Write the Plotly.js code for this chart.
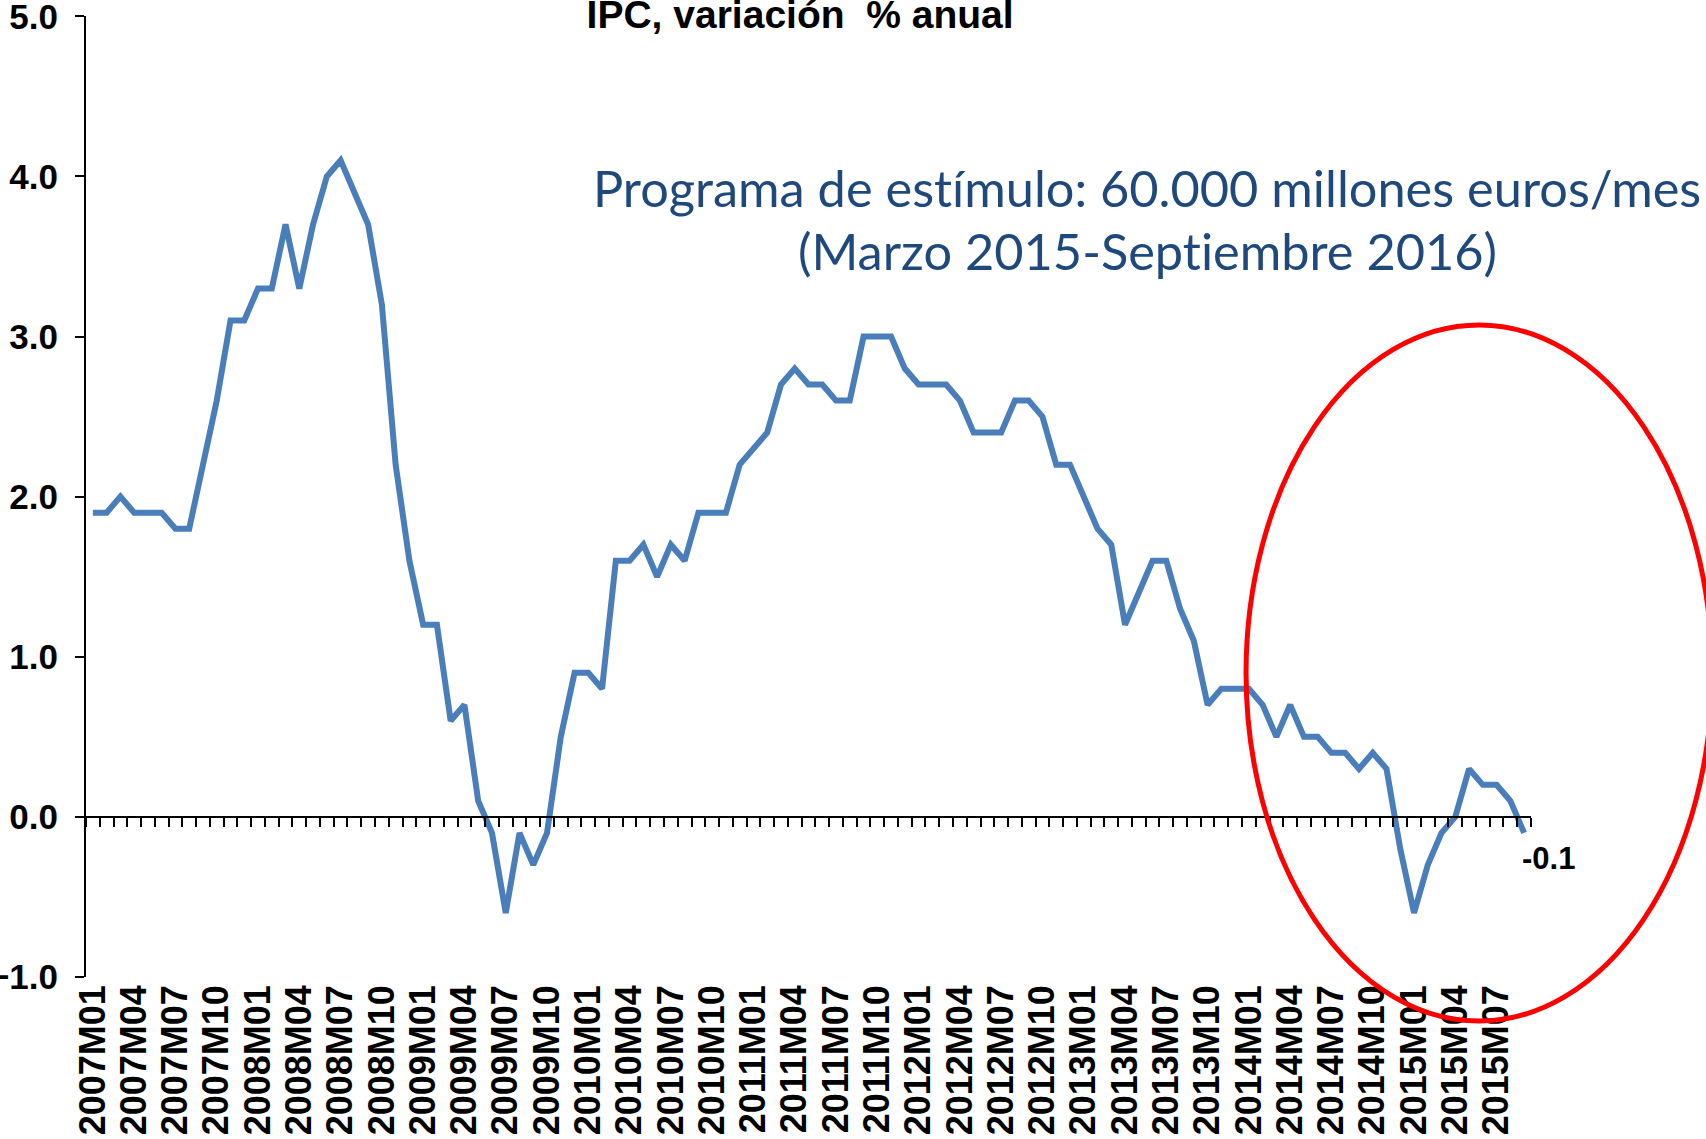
<!DOCTYPE html>
<html>
<head>
<meta charset="utf-8">
<script src="https://cdn.plot.ly/plotly-3.0.1.min.js"></script>
<style>
html, body { margin: 0; padding: 0; background: #fff; }
#chart { width: 1706px; height: 1139px; }
svg text { font-variant-ligatures: none; font-feature-settings: "liga" 0, "clig" 0; }
</style>
</head>
<body>
<div id="chart"></div>
<script>
// ---- Data (IPC, variación % anual, 2007M01 - 2015M09) ----
const startYear = 2007;
const ipc2007 = [1.9, 1.9, 2.0, 1.9, 1.9, 1.9, 1.8, 1.8, 2.2, 2.6, 3.1, 3.1];
const ipc2008 = [3.3, 3.3, 3.7, 3.3, 3.7, 4.0, 4.1, 3.9, 3.7, 3.2, 2.2, 1.6];
const ipc2009 = [1.2, 1.2, 0.6, 0.7, 0.1, -0.1, -0.6, -0.1, -0.3, -0.1, 0.5, 0.9];
const ipc2010 = [0.9, 0.8, 1.6, 1.6, 1.7, 1.5, 1.7, 1.6, 1.9, 1.9, 1.9, 2.2];
const ipc2011 = [2.3, 2.4, 2.7, 2.8, 2.7, 2.7, 2.6, 2.6, 3.0, 3.0, 3.0, 2.8];
const ipc2012 = [2.7, 2.7, 2.7, 2.6, 2.4, 2.4, 2.4, 2.6, 2.6, 2.5, 2.2, 2.2];
const ipc2013 = [2.0, 1.8, 1.7, 1.2, 1.4, 1.6, 1.6, 1.3, 1.1, 0.7, 0.8, 0.8];
const ipc2014 = [0.8, 0.7, 0.5, 0.7, 0.5, 0.5, 0.4, 0.4, 0.3, 0.4, 0.3, -0.2];
const ipc2015 = [-0.6, -0.3, -0.1, 0.0, 0.3, 0.2, 0.2, 0.1, -0.1];
const yearlySeries = [ipc2007, ipc2008, ipc2009, ipc2010, ipc2011, ipc2012, ipc2013, ipc2014, ipc2015];

const yMin = -1, yMax = 5, yStep = 1;
const chartTitle = 'IPC, variación &nbsp;% anual';
const noteLine1 = 'Programa de estímulo: 60.000 millones euros/mes';
const noteLine2 = '(Marzo 2015-Septiembre 2016)';

// Build categories and values
const periods = [];
const values = [];
yearlySeries.forEach((arr, yi) => {
  arr.forEach((v, mi) => {
    periods.push((startYear + yi) + 'M' + String(mi + 1).padStart(2, '0'));
    values.push(v);
  });
});
const labelPeriods = periods.filter((p, i) => i % 3 === 0);
const n = periods.length;
const lastPeriod = periods[n - 1];
const lastValue = values[n - 1];

const boldFont = { family: 'Arial, "Liberation Sans", sans-serif', color: '#000', weight: 'bold' };
const noteFont = { family: 'Lato, "Open Sans", sans-serif', size: 50.5, color: '#1F497D' };

const traces = [
  {
    type: 'scatter', mode: 'lines',
    x: periods, y: values,
    line: { color: '#4A7EBB', width: 6 },
    hoverinfo: 'x+y', showlegend: false
  },
  {
    type: 'scatter', mode: 'lines', x: [], y: [],
    xaxis: 'x2', showlegend: false, hoverinfo: 'skip'
  }
];

const layout = {
  width: 1706, height: 1139,
  margin: { l: 86, r: 175, t: 16, b: 162, pad: 0 },
  paper_bgcolor: '#fff', plot_bgcolor: '#fff',
  showlegend: false,
  title: {
    text: chartTitle,
    font: Object.assign({}, boldFont, { size: 39 }),
    xref: 'container', x: 0.469, xanchor: 'center',
    yref: 'container', y: 0.987, yanchor: 'middle'
  },
  xaxis: {
    type: 'category',
    categoryorder: 'array', categoryarray: periods,
    range: [-0.5, n - 0.5],
    tickmode: 'array', tickvals: labelPeriods, ticktext: labelPeriods,
    tickangle: -90,
    tickfont: Object.assign({}, boldFont, { size: 36 }),
    ticklabeloverflow: 'allow',
    ticks: '', showline: false, showgrid: false, zeroline: false,
    automargin: false, fixedrange: true
  },
  xaxis2: {
    type: 'linear', overlaying: 'x', anchor: 'free', position: 1 / 6,
    side: 'bottom',
    range: [-0.5, n - 0.5],
    tickmode: 'linear', tick0: -0.5, dtick: 1,
    ticks: 'outside', ticklen: 9, tickwidth: 2, tickcolor: '#000',
    showticklabels: false,
    showline: true, linecolor: '#000', linewidth: 2,
    showgrid: false, zeroline: false, fixedrange: true
  },
  yaxis: {
    range: [yMin, yMax + 0.002],
    tickmode: 'linear', tick0: yMin, dtick: yStep,
    tickformat: '.1f',
    ticks: 'outside', ticklen: 9, tickwidth: 2, tickcolor: '#000',
    ticklabelstandoff: 10,
    ticklabeloverflow: 'allow',
    tickfont: Object.assign({}, boldFont, { size: 35 }),
    showline: true, linecolor: '#000', linewidth: 2,
    showgrid: false, zeroline: false,
    automargin: false, fixedrange: true
  },
  annotations: [
    {
      xref: 'paper', yref: 'paper', x: 0.7343, y: 0.822,
      xanchor: 'center', yanchor: 'middle',
      text: noteLine1, showarrow: false, font: noteFont
    },
    {
      xref: 'paper', yref: 'paper', x: 0.7343, y: 0.7565,
      xanchor: 'center', yanchor: 'middle',
      text: noteLine2, showarrow: false, font: noteFont
    },
    {
      xref: 'x', yref: 'y', x: lastPeriod, y: lastValue,
      xanchor: 'left', yanchor: 'middle', xshift: -4, yshift: -26,
      text: lastValue.toFixed(1), showarrow: false,
      font: Object.assign({}, boldFont, { size: 31 })
    }
  ],
  shapes: [
    {
      type: 'circle', xref: 'paper', yref: 'paper',
      x0: 0.8028, x1: 1.1253, y0: -0.0458, y1: 0.6785,
      line: { color: '#FF0000', width: 5 },
      fillcolor: 'rgba(0,0,0,0)', layer: 'above'
    }
  ]
};

Plotly.newPlot('chart', traces, layout, { displayModeBar: false, staticPlot: true });
</script>
</body>
</html>
